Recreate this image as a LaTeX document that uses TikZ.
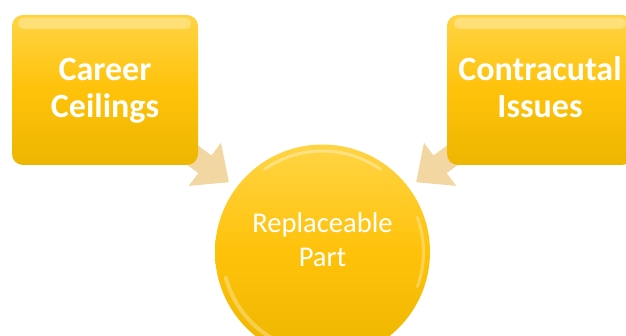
\documentclass[tikz,border=0pt]{standalone}
\usepackage{fontspec}
\setmainfont{Carlito}
\usetikzlibrary{arrows.meta}
\definecolor{goldtop}{HTML}{FFD444}
\definecolor{goldmid}{HTML}{FFC20A}
\definecolor{goldbot}{HTML}{EDB600}
\definecolor{arrowtan}{HTML}{F2D7A2}
\newcommand\toprule[1]{\rule{0pt}{#1}}
\newcommand\botrule[1]{\rule[-#1]{0pt}{0pt}}
\tikzset{
  stepbox/.style={rectangle, rounded corners=11pt, minimum width=186pt, minimum height=150pt,
    top color=goldtop, bottom color=goldbot, middle color=goldmid, draw=none, inner sep=0pt,
    text=white, align=center, font=\fontsize{34}{37}\selectfont\bfseries},
  hub/.style={circle, minimum size=215pt, inner sep=0pt,
    top color=goldtop, bottom color=goldbot, middle color=goldmid, draw=none,
    text=white, align=center, font=\fontsize{28.6}{34}\selectfont},
  ghost/.style={opacity=0, fill=none, shade=false},
  connector/.style={line width=22pt, draw=arrowtan,
    -{Triangle[length=30pt,width=52pt]}, shorten <=-30pt, shorten >=9pt},
  gloss/.style={white, opacity=0.3}
}
\begin{document}
\begin{tikzpicture}[x=1pt,y=-1pt]
\useasboundingbox (0,0) rectangle (626,336);
% positions
\coordinate (pcc) at (105,90);
\coordinate (pci) at (540,90);
\coordinate (prp) at (322.5,252);
% invisible outlines used to route the connectors behind the shapes
\node[stepbox, ghost] (cc0) at (pcc) {};
\node[stepbox, ghost] (ci0) at (pci) {};
\node[hub, ghost] (rp0) at (prp) {};
\draw[connector] (cc0) -- (rp0);
\draw[connector] (ci0) -- (rp0);
% nodes
\node[stepbox] (cc) at (pcc) {\toprule{26pt}Career\\Ceilings\botrule{7pt}};
\node[stepbox] (ci) at (pci) {\toprule{26pt}Contracutal\\Issues\botrule{7pt}};
\node[hub] (rp) at (prp) {\toprule{24pt}Replaceable\\Part\botrule{28pt}};
% gloss highlights
\fill[gloss, rounded corners=5pt] (18,18) rectangle (191,29);
\fill[gloss, rounded corners=5pt] (454,18) rectangle (626,29);
\draw[white, opacity=0.35, line width=3pt, line cap=round]
  ([shift={(235:101)}]prp) arc[start angle=235, end angle=305, radius=101];
\draw[white, opacity=0.3, line width=4pt, line cap=round]
  ([shift={(115:100)}]prp) arc[start angle=115, end angle=165, radius=100];
\draw[white, opacity=0.3, line width=3pt, line cap=round]
  ([shift={(-20:101)}]prp) arc[start angle=-20, end angle=20, radius=101];
\end{tikzpicture}
\end{document}
